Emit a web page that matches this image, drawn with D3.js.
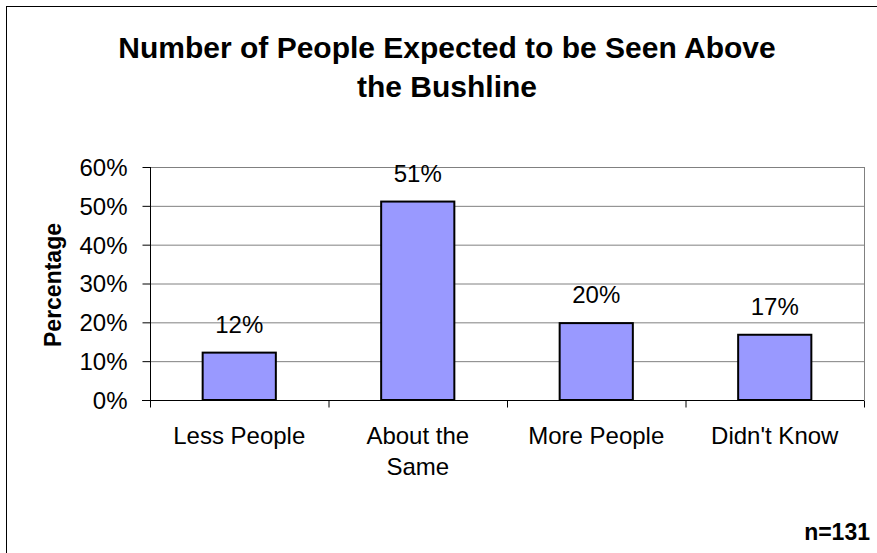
<!DOCTYPE html>
<html>
<head>
<meta charset="UTF-8">
<style>
  body { margin: 0; background: #fff; }
  text { font-family: "Liberation Sans", Arial, sans-serif; fill: #000; }
</style>
</head>
<body>
<svg width="877" height="553"></svg>
<script src="https://cdnjs.cloudflare.com/ajax/libs/d3/7.8.5/d3.min.js"></script>
<script>
// data
const categories = ['Less People', 'About the Same', 'More People', "Didn't Know"];
const catLines = [['Less People'], ['About the', 'Same'], ['More People'], ["Didn't Know"]];
const values = [12.2, 51.1, 19.8, 16.8];
const valueLabels = ['12%', '51%', '20%', '17%'];
const yTicks = [0, 10, 20, 30, 40, 50, 60];
const titleLines = ['Number of People Expected to be Seen Above', 'the Bushline'];

const svg = d3.select('svg');

// outer chart frame (runs past the image on right/bottom)
svg.append('rect')
  .attr('x', 6.5).attr('y', 6.5)
  .attr('width', 900).attr('height', 600)
  .attr('fill', 'none').attr('stroke', '#000').attr('stroke-width', 1);

const plot = { left: 150, right: 864, top: 167, bottom: 400 };

const x = d3.scaleBand().domain(categories).range([plot.left, plot.right]).paddingInner(0.59).paddingOuter(0.295);
const xEdges = d3.scalePoint().domain(d3.range(categories.length + 1)).range([plot.left, plot.right]);
const y = d3.scaleLinear().domain([0, 60]).range([plot.bottom, plot.top]);

// gridlines
svg.append('g')
  .selectAll('line')
  .data(yTicks.filter(d => d > 0))
  .enter().append('line')
  .attr('x1', plot.left).attr('x2', plot.right)
  .attr('y1', d => y(d) + 0.5).attr('y2', d => y(d) + 0.5)
  .attr('stroke', '#808080').attr('stroke-width', 1);

// right edge of plot
svg.append('line')
  .attr('x1', plot.right + 0.5).attr('x2', plot.right + 0.5)
  .attr('y1', plot.top).attr('y2', plot.bottom)
  .attr('stroke', '#808080');

// bars
svg.append('g')
  .selectAll('rect')
  .data(values)
  .enter().append('rect')
  .attr('x', (d, i) => x(categories[i]))
  .attr('y', d => y(d))
  .attr('width', x.bandwidth())
  .attr('height', d => y(0) - y(d))
  .attr('fill', '#9999FF')
  .attr('stroke', '#000')
  .attr('stroke-width', 2);

// value labels
svg.append('g')
  .selectAll('text')
  .data(values)
  .enter().append('text')
  .attr('x', (d, i) => x(categories[i]) + x.bandwidth() / 2)
  .attr('y', d => y(d) - 20)
  .attr('text-anchor', 'middle')
  .attr('font-size', 24)
  .text((d, i) => valueLabels[i]);

// y axis
const yAxis = svg.append('g')
  .attr('transform', `translate(${plot.left + 0.5},0)`)
  .call(d3.axisLeft(y).tickValues(yTicks).tickSize(8).tickPadding(15).tickFormat(d => d + '%'));
yAxis.select('.domain').attr('d', `M0,${plot.top}V${plot.bottom + 7}`).attr('stroke', '#000');
yAxis.selectAll('.tick line').attr('stroke', '#000');
yAxis.selectAll('.tick text').attr('font-size', 24).attr('font-family', null).attr('dy', '0.35em');

// x axis
const xAxis = svg.append('g').attr('transform', `translate(0,${plot.bottom + 0.5})`);
xAxis.append('line')
  .attr('x1', plot.left - 8).attr('x2', plot.right)
  .attr('stroke', '#000');
xAxis.selectAll('line.tick')
  .data(d3.range(categories.length + 1))
  .enter().append('line')
  .attr('class', 'tick')
  .attr('x1', d => xEdges(d) + 0.5).attr('x2', d => xEdges(d) + 0.5)
  .attr('y1', 0).attr('y2', 7)
  .attr('stroke', '#000');

// category labels
const catG = svg.append('g')
  .selectAll('text')
  .data(catLines)
  .enter().append('text')
  .attr('text-anchor', 'middle')
  .attr('font-size', 24)
  .attr('x', (d, i) => x(categories[i]) + x.bandwidth() / 2)
  .attr('y', 444);
catG.selectAll('tspan')
  .data(d => d)
  .enter().append('tspan')
  .attr('x', function () { return d3.select(this.parentNode).attr('x'); })
  .attr('dy', (d, i) => i === 0 ? 0 : 31)
  .text(d => d);

// y axis title
svg.append('text')
  .attr('transform', 'translate(61,285) rotate(-90)')
  .attr('text-anchor', 'middle')
  .attr('font-size', 23)
  .attr('font-weight', 'bold')
  .text('Percentage');

// chart title
svg.append('g')
  .selectAll('text')
  .data(titleLines)
  .enter().append('text')
  .attr('x', 447)
  .attr('y', (d, i) => 58 + i * 39)
  .attr('text-anchor', 'middle')
  .attr('font-size', 30)
  .attr('font-weight', 'bold')
  .text(d => d);

// sample size note
svg.append('text')
  .attr('x', 870)
  .attr('y', 540)
  .attr('text-anchor', 'end')
  .attr('font-size', 23)
  .attr('font-weight', 'bold')
  .text('n=131');
</script>
</body>
</html>
